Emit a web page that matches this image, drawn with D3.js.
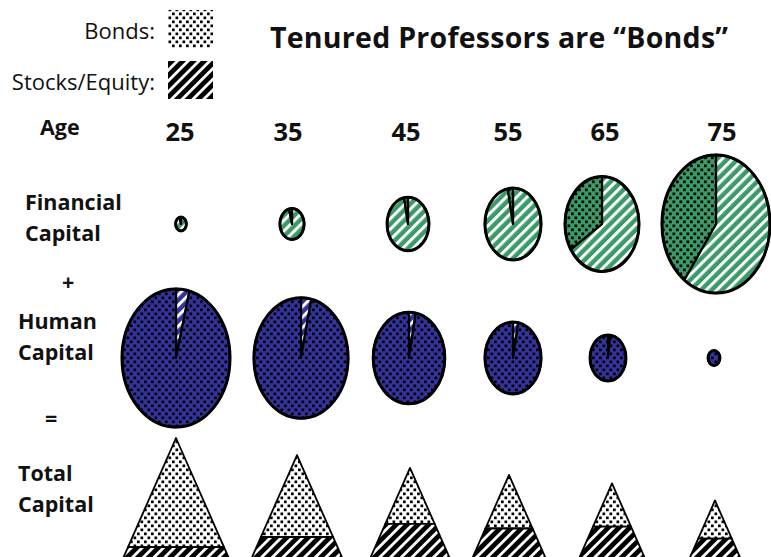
<!DOCTYPE html>
<html>
<head>
<meta charset="utf-8">
<script src="https://cdn.jsdelivr.net/npm/d3@7"></script>
<style>
  body { margin: 0; background: #fff; }
  svg { display: block; }
  text { font-family: "Open Sans", sans-serif; fill: #111; }
</style>
</head>
<body>
<script>
// ages (columns)
var ages = [25, 35, 45, 55, 65, 75];
// financial capital: size and share held in stocks
var financialCapital = [10, 50, 150, 270, 470, 1000];
var financialStockShare = [0.96, 0.96, 0.97, 0.97, 0.66, 0.60];
// human capital: size and share that behaves like stocks
var humanCapital = [1000, 760, 440, 270, 110, 12];
var humanStockShare = [0.04, 0.035, 0.03, 0.03, 0.02, 0.0];
// total capital: size and stock share (by area)
var totalCapital = [1000, 880, 790, 740, 680, 560];
var totalStockShare = [0.41, 0.57, 0.75, 0.74, 0.80, 0.77];

var rowLabels = [
  { lines: ["Age"], x: 40, y: 135 },
  { lines: ["Financial", "Capital"], x: 25, y: 210 },
  { lines: ["+"], x: 62, y: 290 },
  { lines: ["Human", "Capital"], x: 18, y: 329 },
  { lines: ["="], x: 45, y: 426 },
  { lines: ["Total", "Capital"], x: 18, y: 481 }
];

var width = 771, height = 557;

var svg = d3.select("body").append("svg")
  .attr("width", width)
  .attr("height", height);
var defs = svg.append("defs");

var green = "#3a9a68", blue = "#34339c";

function makeDots(id, bg) {
  var p = defs.append("pattern").attr("id", id)
    .attr("patternUnits", "userSpaceOnUse")
    .attr("width", 7).attr("height", 8);
  p.append("rect").attr("width", 7).attr("height", 8).attr("fill", bg);
  p.append("rect").attr("x", 0.5).attr("y", 0.5).attr("width", 2.7).attr("height", 2.7).attr("fill", "#000");
  p.append("rect").attr("x", 4).attr("y", 4.5).attr("width", 2.7).attr("height", 2.7).attr("fill", "#000");
}
function makeStripes(id, bg, period, white) {
  var p = defs.append("pattern").attr("id", id)
    .attr("patternUnits", "userSpaceOnUse")
    .attr("width", period).attr("height", period)
    .attr("patternTransform", "rotate(45)");
  p.append("rect").attr("width", period).attr("height", period).attr("fill", bg);
  p.append("rect").attr("width", white).attr("height", period).attr("fill", "#fff");
}
makeDots("dotsWhite", "#fff");
makeDots("dotsGreen", green);
makeDots("dotsBlue", blue);
makeStripes("stripesBlack", "#000", 7.6, 2.8);
makeStripes("stripesGreen", green, 7.4, 3);
makeStripes("stripesBlue", blue, 7.4, 3);

// title
svg.append("text")
  .attr("x", 270).attr("y", 48)
  .style("font-weight", "bold").style("font-size", "28.5px")
  .attr("textLength", 458)
  .text("Tenured Professors are \u201CBonds\u201D");

// legend
var legend = [
  { label: "Bonds:", fill: "url(#dotsWhite)", y: 10 },
  { label: "Stocks/Equity:", fill: "url(#stripesBlack)", y: 61 }
];
var lg = svg.selectAll("g.legend").data(legend).enter().append("g").attr("class", "legend");
lg.append("rect")
  .attr("x", 168).attr("y", function(d) { return d.y; })
  .attr("width", 45).attr("height", 38)
  .attr("fill", function(d) { return d.fill; });
lg.append("text")
  .attr("x", 155).attr("y", function(d) { return d.y + 29; })
  .attr("text-anchor", "end")
  .style("font-size", "22px")
  .text(function(d) { return d.label; });

// row labels
var rl = svg.selectAll("text.row").data(rowLabels).enter().append("text")
  .attr("class", "row")
  .attr("x", function(d) { return d.x; })
  .attr("y", function(d) { return d.y; })
  .style("font-weight", "bold").style("font-size", "21.5px");
rl.selectAll("tspan").data(function(d) { return d.lines.map(function(l) { return { l: l, x: d.x }; }); })
  .enter().append("tspan")
  .attr("x", function(d) { return d.x; })
  .attr("dy", function(d, i) { return i ? 31 : 0; })
  .text(function(d) { return d.l; });

// column positions
var xAge = d3.scaleOrdinal().domain(ages).range([180, 288, 406, 508, 605, 722]);
var xFin = d3.scaleOrdinal().domain(ages).range([181, 292, 408, 513, 602, 716]);
var xHum = d3.scaleOrdinal().domain(ages).range([176, 301, 409, 513, 608, 714]);
var xTot = d3.scaleOrdinal().domain(ages).range([176, 297, 410, 509, 612, 715]);

svg.selectAll("text.age").data(ages).enter().append("text")
  .attr("class", "age")
  .attr("x", function(d) { return xAge(d); })
  .attr("y", 141)
  .attr("text-anchor", "middle")
  .style("font-weight", "bold").style("font-size", "25.5px")
  .text(function(d) { return d; });

// pies (stretched vertically)
var r = d3.scaleSqrt().domain([0, 1000]).range([0, 54]);
var aspect = 1.28;
var pie = d3.pie().sort(null).value(function(d) { return d; });

function slicePath(cx, cy, rx, ry, a0, a1) {
  if (a1 - a0 >= 2 * Math.PI - 1e-6) {
    return "M" + cx + "," + (cy - ry) + "A" + rx + "," + ry + " 0 1 1 " + cx + "," + (cy + ry) +
      "A" + rx + "," + ry + " 0 1 1 " + cx + "," + (cy - ry) + "Z";
  }
  var x0 = cx + rx * Math.sin(a0), y0 = cy - ry * Math.cos(a0);
  var x1 = cx + rx * Math.sin(a1), y1 = cy - ry * Math.cos(a1);
  var large = (a1 - a0) > Math.PI ? 1 : 0;
  return "M" + cx + "," + cy + "L" + x0 + "," + y0 +
    "A" + rx + "," + ry + " 0 " + large + " 1 " + x1 + "," + y1 + "Z";
}

function drawPies(values, shares, xs, cy, fills) {
  ages.forEach(function(age, i) {
    var rx = r(values[i]), ry = rx * aspect, cx = xs(age);
    var g = svg.append("g");
    var arcs = pie([shares[i], 1 - shares[i]]);
    g.selectAll("path").data(arcs).enter().append("path")
      .attr("d", function(d) { return slicePath(cx, cy, rx, ry, d.startAngle, d.endAngle); })
      .attr("fill", function(d, j) { return fills[j]; })
      .attr("stroke", "#000")
      .attr("stroke-width", 2.2)
      .attr("stroke-linejoin", "round");
    g.append("ellipse")
      .attr("cx", cx).attr("cy", cy).attr("rx", rx).attr("ry", ry)
      .attr("fill", "none").attr("stroke", "#000").attr("stroke-width", 3);
  });
}
drawPies(financialCapital, financialStockShare, xFin, 224, ["url(#stripesGreen)", "url(#dotsGreen)"]);
drawPies(humanCapital, humanStockShare, xHum, 358, ["url(#stripesBlue)", "url(#dotsBlue)"]);

// triangles
var base = 580;
var h = d3.scaleLinear().domain([0, 1000]).range([0, 142]);
var slope = 0.44;
ages.forEach(function(age, i) {
  var ht = h(totalCapital[i]), cx = xTot(age), top = base - ht, hw = ht * slope;
  var f = 1 - Math.sqrt(1 - totalStockShare[i]);
  var sy = base - ht * f, shw = (sy - top) * slope;
  svg.append("path")
    .attr("d", "M" + cx + "," + top + "L" + (cx + shw) + "," + sy + "L" + (cx - shw) + "," + sy + "Z")
    .attr("fill", "url(#dotsWhite)").attr("stroke", "#000").attr("stroke-width", 1.8)
    .attr("stroke-linejoin", "round");
  svg.append("path")
    .attr("d", "M" + (cx - shw) + "," + sy + "L" + (cx + shw) + "," + sy + "L" + (cx + hw) + "," + base +
      "L" + (cx - hw) + "," + base + "Z")
    .attr("fill", "url(#stripesBlack)").attr("stroke", "#000").attr("stroke-width", 1.8);
});
</script>
</body>
</html>
